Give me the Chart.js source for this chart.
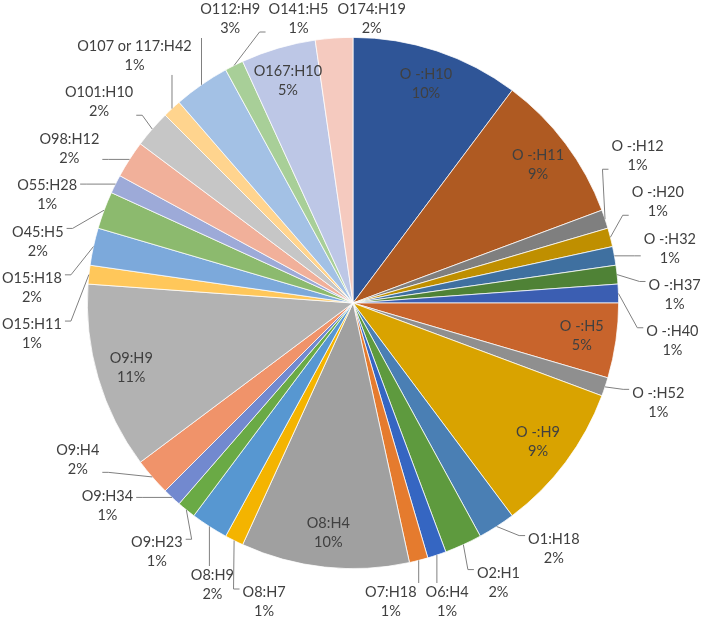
<!DOCTYPE html>
<html>
<head>
<meta charset="utf-8">
<script src="https://cdn.jsdelivr.net/npm/chart.js@4"></script>
<style>
  html, body { margin: 0; padding: 0; background: #fff; }
  #wrap { width: 709px; height: 621px; }
</style>
</head>
<body>
<div id="wrap"><canvas id="chart" width="709" height="621"></canvas></div>
<script>
// pair labels, clockwise from 12 o'clock
var labels = [
  'O -:H10', 'O -:H11', 'O -:H12', 'O -:H20', 'O -:H32', 'O -:H37', 'O -:H40',
  'O -:H5', 'O -:H52', 'O -:H9', 'O1:H18', 'O2:H1', 'O6:H4', 'O7:H18',
  'O8:H4', 'O8:H7', 'O8:H9', 'O9:H23', 'O9:H34', 'O9:H4', 'O9:H9',
  'O15:H11', 'O15:H18', 'O45:H5', 'O55:H28', 'O98:H12', 'O101:H10',
  'O107 or 117:H42', 'O112:H9', 'O141:H5', 'O167:H10', 'O174:H19'
];
// counts (total 88)
var counts = [
  9, 8, 1, 1, 1, 1, 1,
  4, 1, 8, 2, 2, 1, 1,
  9, 1, 2, 1, 1, 2, 10,
  1, 2, 2, 1, 2, 2,
  1, 3, 1, 4, 2
];
var colors = [
  '#2f5597', '#af5a22', '#7f7f7f', '#bf8f00', '#3f70a0', '#4f8236', '#3b5eb2',
  '#c8642c', '#8f8f8f', '#d9a300', '#4a7fb4', '#5e9a3e', '#3566c2', '#e57b2e',
  '#a0a0a0', '#f4b400', '#5797d1', '#6aaa45', '#7289cf', '#f0936a', '#b2b2b2',
  '#ffc75a', '#7ca9db', '#8cba6e', '#9daad8', '#f1b09a', '#c6c6c6',
  '#ffd48e', '#a3c1e5', '#a8cf98', '#bdc7e6', '#f5cabf'
];

var total = counts.reduce(function(a, b) { return a + b; }, 0);

var pieLabels = {
  id: 'pieLabels',
  afterDatasetsDraw: function(chart) {
    var ctx = chart.ctx;
    var arcs = chart.getDatasetMeta(0).data;
    var lh = 19, gap = 30;
    ctx.save();
    ctx.font = '14.5px Lato';

    var items = arcs.map(function(arc, i) {
      var p = arc.getProps(['x', 'y', 'startAngle', 'endAngle', 'outerRadius'], true);
      var mid = (p.startAngle + p.endAngle) / 2;
      var lines = [labels[i], Math.round(counts[i] / total * 100) + '%'];
      var w = Math.max.apply(null, lines.map(function(l) { return ctx.measureText(l).width; }));
      return { p: p, mid: mid, phi: mid, lines: lines, w: w, h: lines.length * lh, inside: counts[i] >= 4 };
    });

    function place(it) {
      var c = Math.cos(it.phi), s = Math.sin(it.phi);
      var R = it.p.outerRadius + gap;
      var cx = it.p.x + R * c + c * it.w / 2;
      var cy = it.p.y + R * s + s * it.h / 2;
      it.cx = Math.min(Math.max(cx, it.w / 2 + 2), chart.width - it.w / 2 - 2);
      it.cy = Math.min(Math.max(cy, it.h / 2), chart.height - it.h / 2);
    }
    function overlap(a, b) {
      return Math.abs(a.cx - b.cx) < (a.w + b.w) / 2 + 8 &&
             Math.abs(a.cy - b.cy) < (a.h + b.h) / 2 + 8;
    }

    var outs = items.filter(function(it) { return !it.inside; });
    outs.forEach(place);
    for (var iter = 0; iter < 3000; iter++) {
      var moved = false;
      for (var a = 0; a < outs.length; a++) {
        for (var b = a + 1; b < outs.length; b++) {
          if (overlap(outs[a], outs[b])) {
            outs[a].phi -= 0.002;
            outs[b].phi += 0.002;
            moved = true;
          }
        }
      }
      if (!moved) break;
      outs.forEach(place);
    }

    items.forEach(function(it) {
      if (it.inside) {
        var R = it.p.outerRadius * 0.87;
        it.cx = it.p.x + R * Math.cos(it.mid);
        it.cy = it.p.y + R * Math.sin(it.mid);
      }
    });

    // leader lines
    ctx.strokeStyle = '#808080';
    ctx.lineWidth = 1;
    outs.forEach(function(it) {
      var ax = it.p.x + it.p.outerRadius * Math.cos(it.mid);
      var ay = it.p.y + it.p.outerRadius * Math.sin(it.mid);
      var l = it.cx - it.w / 2 - 3, r = it.cx + it.w / 2 + 3;
      var t = it.cy - it.h / 2, btm = it.cy + it.h / 2;
      var ex = Math.min(Math.max(ax, l), r);
      var ey = Math.min(Math.max(ay, t), btm);
      if (Math.hypot(ex - ax, ey - ay) < 16) return;
      ctx.beginPath();
      ctx.moveTo(ax, ay);
      if (ex === l || ex === r) {
        var dir = ex === l ? -1 : 1;
        ey = Math.min(Math.max(ey, t + 6), btm - 6);
        ctx.lineTo(ex + dir * 6, ey);
        ctx.lineTo(ex, ey);
      } else {
        ctx.lineTo(ex, ey);
      }
      ctx.stroke();
    });

    ctx.fillStyle = '#404040';
    ctx.textAlign = 'center';
    ctx.textBaseline = 'middle';
    items.forEach(function(it) {
      it.lines.forEach(function(line, k) {
        ctx.fillText(line, it.cx, it.cy - it.h / 2 + lh / 2 + k * lh);
      });
    });
    ctx.restore();
  }
};

var ctx = document.getElementById('chart').getContext('2d');
var chart = new Chart(ctx, {
  type: 'pie',
  data: {
    labels: labels,
    datasets: [{
      data: counts,
      backgroundColor: colors,
      borderColor: '#ffffff',
      borderWidth: 0.75
    }]
  },
  options: {
    responsive: false,
    animation: false,
    layout: { padding: { left: 87, right: 90, top: 37, bottom: 52 } },
    plugins: {
      legend: { display: false },
      tooltip: { enabled: false }
    }
  },
  plugins: [pieLabels]
});
</script>
</body>
</html>
